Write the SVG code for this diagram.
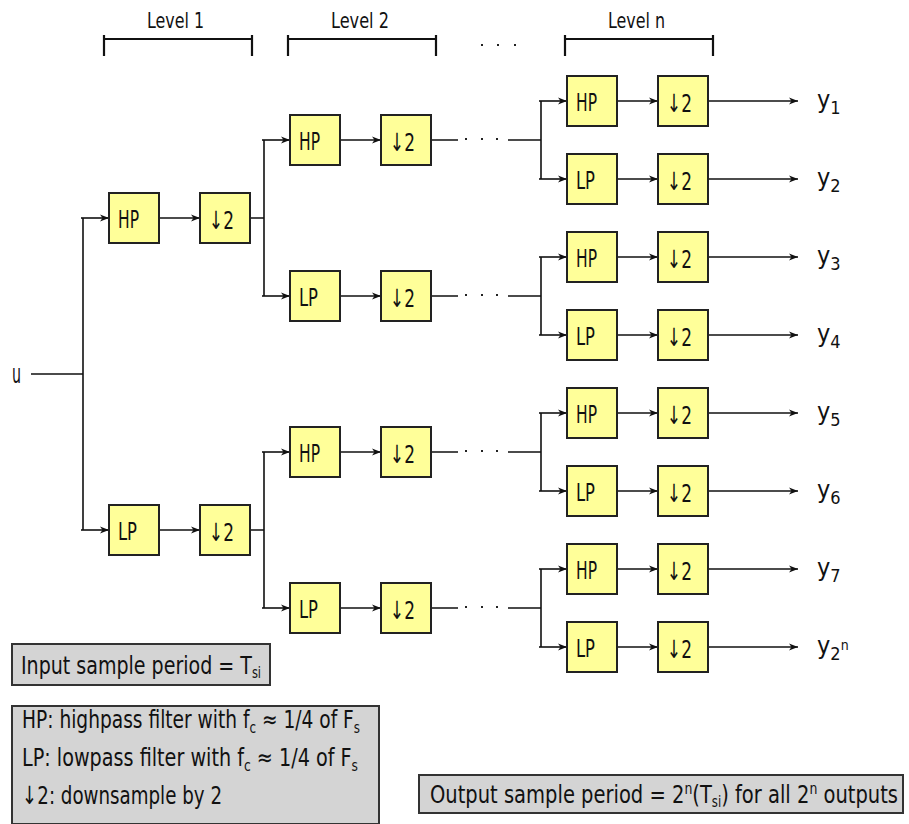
<svg xmlns="http://www.w3.org/2000/svg" width="909" height="824" viewBox="0 0 909 824">
<style>
text{font-family:"Liberation Sans Narrow","DejaVu Sans Condensed","Liberation Sans",sans-serif;fill:#111}
.blk{fill:#ffff99;stroke:#222;stroke-width:2}
.ln{stroke:#111;stroke-width:1.6;fill:none}
.br{stroke:#111;stroke-width:2.2;fill:none}
.box{fill:#d4d4d4;stroke:#333;stroke-width:2}
.bt{font-size:25px}
.lt{font-size:22px}
.yt{font-size:25px}
.nt{font-size:25px}
.dot{fill:#222}
</style>
<defs>
<marker id="ar" markerUnits="userSpaceOnUse" markerWidth="10" markerHeight="8" refX="9" refY="4" orient="auto">
<path d="M0,0.5 L9,4 L0,7.5 L2.5,4 z" fill="#111"/>
</marker>
<g id="hp"><rect class="blk" x="0" y="-25" width="50" height="50"/><text class="bt" x="9" y="10" textLength="21" lengthAdjust="spacingAndGlyphs">HP</text></g>
<g id="lp"><rect class="blk" x="0" y="-25" width="50" height="50"/><text class="bt" x="9" y="10" textLength="19" lengthAdjust="spacingAndGlyphs">LP</text></g>
<g id="dn"><rect class="blk" x="0" y="-25" width="50" height="50"/><text class="bt" x="9" y="11" textLength="25" lengthAdjust="spacingAndGlyphs">↓2</text></g>
</defs>
<rect width="909" height="824" fill="#fff"/>

<g id="header">
<text class="lt" x="147" y="28" textLength="57" lengthAdjust="spacingAndGlyphs">Level 1</text>
<text class="lt" x="331" y="28" textLength="58" lengthAdjust="spacingAndGlyphs">Level 2</text>
<text class="lt" x="608" y="28" textLength="57" lengthAdjust="spacingAndGlyphs">Level n</text>
<path class="br" d="M104,35 V56 M104,39 H252 M252,35 V56 M288,35 V56 M288,39 H436 M436,35 V56 M565,35 V56 M565,39 H713 M713,35 V56"/>
<rect class="dot" x="481" y="44" width="2" height="2"/>
<rect class="dot" x="497" y="44" width="2" height="2"/>
<rect class="dot" x="514" y="44" width="2" height="2"/>
</g>

<g id="connectors">
<path class="ln" d="M31,374 H83 M83,218 V530 M264,140 V296 M264,452 V608 M541,101 V179 M541,257 V335 M541,413 V491 M541,569 V647"/>
<path class="ln" d="M250,218 H264 M250,530 H264"/>
<g marker-end="url(#ar)">
<path class="ln" d="M81,218 H109"/><path class="ln" d="M81,530 H109"/>
<path class="ln" d="M159,218 H200"/><path class="ln" d="M159,530 H200"/>
<path class="ln" d="M262,140 H290"/><path class="ln" d="M262,296 H290"/>
<path class="ln" d="M262,452 H290"/><path class="ln" d="M262,608 H290"/>
<path class="ln" d="M340,140 H381"/><path class="ln" d="M340,296 H381"/>
<path class="ln" d="M340,452 H381"/><path class="ln" d="M340,608 H381"/>
<path class="ln" d="M539,101 H567"/><path class="ln" d="M539,179 H567"/>
<path class="ln" d="M539,257 H567"/><path class="ln" d="M539,335 H567"/>
<path class="ln" d="M539,413 H567"/><path class="ln" d="M539,491 H567"/>
<path class="ln" d="M539,569 H567"/><path class="ln" d="M539,647 H567"/>
<path class="ln" d="M617,101 H658"/><path class="ln" d="M617,179 H658"/>
<path class="ln" d="M617,257 H658"/><path class="ln" d="M617,335 H658"/>
<path class="ln" d="M617,413 H658"/><path class="ln" d="M617,491 H658"/>
<path class="ln" d="M617,569 H658"/><path class="ln" d="M617,647 H658"/>
<path class="ln" d="M708,101 H798"/><path class="ln" d="M708,179 H798"/>
<path class="ln" d="M708,257 H798"/><path class="ln" d="M708,335 H798"/>
<path class="ln" d="M708,413 H798"/><path class="ln" d="M708,491 H798"/>
<path class="ln" d="M708,569 H798"/><path class="ln" d="M708,647 H798"/>
</g>
<path class="ln" d="M431,140 H458 M508,140 H541 M431,296 H458 M508,296 H541 M431,452 H458 M508,452 H541 M431,608 H458 M508,608 H541"/>
<g class="dot">
<rect x="465" y="138" width="2" height="2"/><rect x="481" y="138" width="2" height="2"/><rect x="496" y="138" width="2" height="2"/>
<rect x="465" y="294" width="2" height="2"/><rect x="481" y="294" width="2" height="2"/><rect x="496" y="294" width="2" height="2"/>
<rect x="465" y="450" width="2" height="2"/><rect x="481" y="450" width="2" height="2"/><rect x="496" y="450" width="2" height="2"/>
<rect x="465" y="606" width="2" height="2"/><rect x="481" y="606" width="2" height="2"/><rect x="496" y="606" width="2" height="2"/>
</g>
</g>

<g id="input"><text x="12" y="383" font-size="27" textLength="9" lengthAdjust="spacingAndGlyphs">u</text></g>

<g id="l1-hp"><use href="#hp" x="109" y="218"/></g>
<g id="l1-hp-dn"><use href="#dn" x="200" y="218"/></g>
<g id="l1-lp"><use href="#lp" x="109" y="530"/></g>
<g id="l1-lp-dn"><use href="#dn" x="200" y="530"/></g>

<g id="l2-hp1"><use href="#hp" x="290" y="140"/></g>
<g id="l2-hp1-dn"><use href="#dn" x="381" y="140"/></g>
<g id="l2-lp1"><use href="#lp" x="290" y="296"/></g>
<g id="l2-lp1-dn"><use href="#dn" x="381" y="296"/></g>
<g id="l2-hp2"><use href="#hp" x="290" y="452"/></g>
<g id="l2-hp2-dn"><use href="#dn" x="381" y="452"/></g>
<g id="l2-lp2"><use href="#lp" x="290" y="608"/></g>
<g id="l2-lp2-dn"><use href="#dn" x="381" y="608"/></g>

<g id="ln-hp1"><use href="#hp" x="567" y="101"/></g>
<g id="ln-hp1-dn"><use href="#dn" x="658" y="101"/></g>
<g id="ln-lp1"><use href="#lp" x="567" y="179"/></g>
<g id="ln-lp1-dn"><use href="#dn" x="658" y="179"/></g>
<g id="ln-hp2"><use href="#hp" x="567" y="257"/></g>
<g id="ln-hp2-dn"><use href="#dn" x="658" y="257"/></g>
<g id="ln-lp2"><use href="#lp" x="567" y="335"/></g>
<g id="ln-lp2-dn"><use href="#dn" x="658" y="335"/></g>
<g id="ln-hp3"><use href="#hp" x="567" y="413"/></g>
<g id="ln-hp3-dn"><use href="#dn" x="658" y="413"/></g>
<g id="ln-lp3"><use href="#lp" x="567" y="491"/></g>
<g id="ln-lp3-dn"><use href="#dn" x="658" y="491"/></g>
<g id="ln-hp4"><use href="#hp" x="567" y="569"/></g>
<g id="ln-hp4-dn"><use href="#dn" x="658" y="569"/></g>
<g id="ln-lp4"><use href="#lp" x="567" y="647"/></g>
<g id="ln-lp4-dn"><use href="#dn" x="658" y="647"/></g>

<g id="outputs">
<text class="yt" x="817" y="108">y<tspan font-size="18" dy="6">1</tspan></text>
<text class="yt" x="817" y="186">y<tspan font-size="18" dy="6">2</tspan></text>
<text class="yt" x="817" y="264">y<tspan font-size="18" dy="6">3</tspan></text>
<text class="yt" x="817" y="342">y<tspan font-size="18" dy="6">4</tspan></text>
<text class="yt" x="817" y="420">y<tspan font-size="18" dy="6">5</tspan></text>
<text class="yt" x="817" y="498">y<tspan font-size="18" dy="6">6</tspan></text>
<text class="yt" x="817" y="576">y<tspan font-size="18" dy="6">7</tspan></text>
<text class="yt" x="817" y="654">y<tspan font-size="18" dy="6">2</tspan><tspan font-size="14" dy="-10">n</tspan></text>
</g>

<g id="note-input">
<rect class="box" x="12" y="644" width="258" height="41"/>
<text class="nt" x="21" y="674" textLength="240" lengthAdjust="spacingAndGlyphs">Input sample period = T<tspan font-size="15" dy="4">si</tspan></text>
</g>

<g id="note-legend">
<rect class="box" x="12" y="706" width="367" height="118"/>
<text class="nt" x="22" y="728" textLength="338" lengthAdjust="spacingAndGlyphs">HP: highpass filter with f<tspan font-size="16" dy="5">c</tspan><tspan dy="-5"> ≈ 1/4 of F</tspan><tspan font-size="16" dy="5">s</tspan></text>
<text class="nt" x="22" y="766" textLength="336" lengthAdjust="spacingAndGlyphs">LP: lowpass filter with f<tspan font-size="16" dy="5">c</tspan><tspan dy="-5"> ≈ 1/4 of F</tspan><tspan font-size="16" dy="5">s</tspan></text>
<text class="nt" x="22" y="804" textLength="200" lengthAdjust="spacingAndGlyphs">↓2: downsample by 2</text>
</g>

<g id="note-output">
<rect class="box" x="419" y="775" width="484" height="38"/>
<text class="nt" x="430" y="803" textLength="468" lengthAdjust="spacingAndGlyphs">Output sample period = 2<tspan font-size="16" dy="-9">n</tspan><tspan dy="9">(T</tspan><tspan font-size="15" dy="4">si</tspan><tspan dy="-4">) for all 2</tspan><tspan font-size="16" dy="-9">n</tspan><tspan dy="9"> outputs</tspan></text>
</g>
</svg>
